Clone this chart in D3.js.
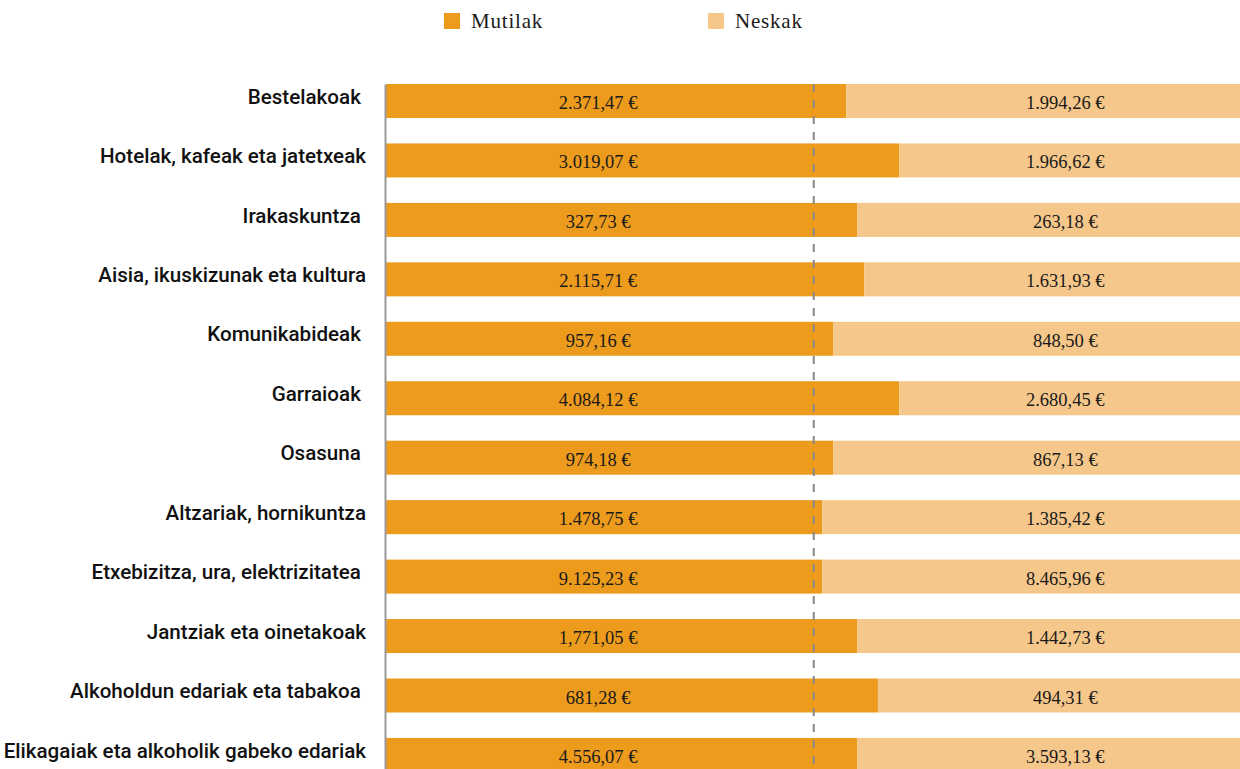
<!DOCTYPE html>
<html>
<head>
<meta charset="utf-8">
<script src="https://cdn.jsdelivr.net/npm/d3@7"></script>
<style>
  body { margin: 0; background: #fff; overflow: hidden; }
  .cat text { font-family: Roboto, sans-serif; font-weight: 500; font-size: 20.6px; fill: #111; white-space: pre; }
  .val { font-family: "Liberation Serif", serif; font-size: 18.5px; fill: #1a1a1a; }
  .legend text { font-family: "Liberation Serif", serif; font-size: 21px; letter-spacing: 0.8px; fill: #1a1a1a; }
</style>
</head>
<body>
<div id="chart"></div>
<script>
// categories, top to bottom (some labels carry a trailing space in the original)
var categories = ["Bestelakoak ", "Hotelak, kafeak eta jatetxeak", "Irakaskuntza ",
  "Aisia, ikuskizunak eta kultura", "Komunikabideak ", "Garraioak ", "Osasuna ",
  "Altzariak, hornikuntza", "Etxebizitza, ura, elektrizitatea ", "Jantziak eta oinetakoak",
  "Alkoholdun edariak eta tabakoa ", "Elikagaiak eta alkoholik gabeko edariak"];

// value labels as printed
var mutilakLabels = ["2.371,47 €", "3.019,07 €", "327,73 €", "2.115,71 €", "957,16 €", "4.084,12 €",
  "974,18 €", "1.478,75 €", "9.125,23 €", "1,771,05 €", "681,28 €", "4.556,07 €"];
var neskakLabels = ["1.994,26 €", "1.966,62 €", "263,18 €", "1.631,93 €", "848,50 €", "2.680,45 €",
  "867,13 €", "1.385,42 €", "8.465,96 €", "1.442,73 €", "494,31 €", "3.593,13 €"];

// share of Mutilak in each bar (%)
var mutilakShare = [53.8, 60.0, 55.1, 55.9, 52.3, 60.0, 52.3, 51.0, 51.0, 55.1, 57.5, 55.1];

var series = ["Mutilak", "Neskak"];
var colors = ["#EC9B1D", "#F6C78A"];

var width = 1240, height = 769;
var margin = { top: 84, left: 386 };

var svg = d3.select("#chart").append("svg")
    .attr("width", width)
    .attr("height", height);

var x = d3.scaleLinear().domain([0, 100]).range([margin.left, 1241.5]);

var step = 59.45, barH = 34;
var y = d3.scaleBand()
    .domain(categories)
    .range([margin.top, margin.top + (categories.length - 1) * step + barH])
    .paddingInner(1 - barH / step)
    .paddingOuter(0);

var rows = categories.map(function (c, i) {
  return { cat: c, m: mutilakShare[i], ml: mutilakLabels[i], nl: neskakLabels[i] };
});

// bars
var row = svg.selectAll(".row")
    .data(rows)
    .enter().append("g")
    .attr("class", "row");

row.append("rect")
    .attr("x", x(0))
    .attr("y", function (d) { return y(d.cat); })
    .attr("width", function (d) { return x(d.m) - x(0); })
    .attr("height", y.bandwidth())
    .attr("fill", colors[0]);

row.append("rect")
    .attr("x", function (d) { return x(d.m); })
    .attr("y", function (d) { return y(d.cat); })
    .attr("width", function (d) { return x(100) - x(d.m); })
    .attr("height", y.bandwidth())
    .attr("fill", colors[1]);

// category axis
var axis = svg.append("g")
    .attr("class", "cat")
    .attr("transform", "translate(" + (margin.left - 1) + ",0)")
    .call(d3.axisLeft(y).tickSize(0).tickSizeOuter(0).tickPadding(19));

axis.select(".domain").attr("stroke", "#999").attr("stroke-width", 2);
axis.selectAll("text")
    .attr("xml:space", "preserve")
    .attr("dy", "0.13em");

// 50% reference
svg.append("line")
    .attr("x1", x(50)).attr("x2", x(50))
    .attr("y1", margin.top).attr("y2", height)
    .attr("stroke", "#888")
    .attr("stroke-width", 2)
    .attr("stroke-dasharray", "8,8");

// value labels
row.append("text")
    .attr("class", "val")
    .attr("x", x(24.8))
    .attr("y", function (d) { return y(d.cat) + y.bandwidth() / 2 + 8; })
    .attr("text-anchor", "middle")
    .text(function (d) { return d.ml; });

row.append("text")
    .attr("class", "val")
    .attr("x", x(79.4))
    .attr("y", function (d) { return y(d.cat) + y.bandwidth() / 2 + 8; })
    .attr("text-anchor", "middle")
    .text(function (d) { return d.nl; });

// legend
var legendX = [444, 708];
var legend = svg.selectAll(".legend")
    .data(series)
    .enter().append("g")
    .attr("class", "legend")
    .attr("transform", function (d, i) { return "translate(" + legendX[i] + ",13)"; });

legend.append("rect")
    .attr("width", 16)
    .attr("height", 16)
    .attr("fill", function (d, i) { return colors[i]; });

legend.append("text")
    .attr("x", 27)
    .attr("y", 15)
    .text(function (d) { return d; });
</script>
</body>
</html>
